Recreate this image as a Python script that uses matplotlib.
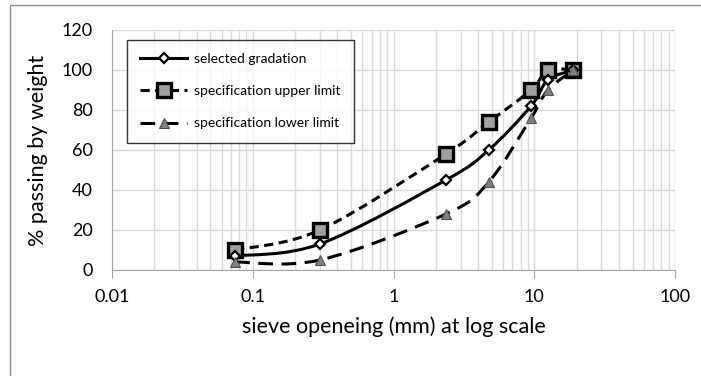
import matplotlib
matplotlib.use('Agg')
import matplotlib.pyplot as plt
from matplotlib.path import Path
from matplotlib.patches import PathPatch, Rectangle
from matplotlib.lines import Line2D
import numpy as np

plt.rcParams['font.family'] = ['Lato', 'DejaVu Sans']

# sieve sizes (mm) and % passing
sieve = [0.075, 0.3, 2.36, 4.75, 9.5, 12.5, 19]
selected = [7, 13, 45, 60, 82, 95, 100]
upper = [10, 20, 58, 74, 90, 100, 100]
lower = [4, 5, 28, 44, 76, 90, 100]

GRID = '#d9d9d9'
AXIS = '#a6a6a6'
GRAY_FILL = '#a0a0a0'
TRI_FILL = '#808080'


def smooth_path(xs, ys):
    # Excel-like smoothed line: cubic Bezier segments in log-x space
    lx = np.log10(xs)
    ys = np.asarray(ys, dtype=float)
    n = len(lx)
    verts = [(xs[0], ys[0])]
    codes = [Path.MOVETO]
    for i in range(n - 1):
        p0 = np.array([lx[max(i - 1, 0)], ys[max(i - 1, 0)]])
        p1 = np.array([lx[i], ys[i]])
        p2 = np.array([lx[i + 1], ys[i + 1]])
        p3 = np.array([lx[min(i + 2, n - 1)], ys[min(i + 2, n - 1)]])
        c1 = p1 + (p2 - p0) / 6.0
        c2 = p2 - (p3 - p1) / 6.0
        for c in (c1, c2, p2):
            verts.append((10 ** c[0], c[1]))
            codes.append(Path.CURVE4)
    return Path(verts, codes)


fig = plt.figure(figsize=(7.01, 3.76), dpi=100)
fig.patch.set_facecolor('white')
fig.patches.append(Rectangle((10 / 701, -0.05), 1.2, 1 - 5 / 376 + 0.05,
                             transform=fig.transFigure, fill=False,
                             edgecolor='#8c8c8c', linewidth=1.0))

ax = fig.add_axes([112 / 701, 1 - 270 / 376, (675 - 112) / 701, 240 / 376])
ax.set_xscale('log')
ax.set_xlim(0.01, 100)
ax.set_ylim(0, 120)
ax.set_yticks(range(0, 121, 20))

ax.grid(True, which='major', axis='both', color=GRID, linewidth=1.0)
ax.grid(True, which='minor', axis='x', color=GRID, linewidth=1.0)
ax.set_axisbelow(True)
for s in ['top', 'right']:
    ax.spines[s].set_visible(False)
ax.spines['left'].set_color(AXIS)
ax.spines['bottom'].set_color(AXIS)
ax.tick_params(axis='x', which='major', length=6, color=AXIS, labelsize=13, pad=8)
ax.tick_params(axis='x', which='minor', length=0)
ax.tick_params(axis='y', length=0, labelsize=13, pad=14)
ax.xaxis.set_major_formatter(matplotlib.ticker.FuncFormatter(lambda v, p: f'{v:g}'))

# smoothed lines
ax.add_patch(PathPatch(smooth_path(sieve, upper), fill=False, edgecolor='black',
                       linewidth=2.2, linestyle=(0, (3.0, 1.8)), zorder=3))
ax.add_patch(PathPatch(smooth_path(sieve, lower), fill=False, edgecolor='black',
                       linewidth=2.2, linestyle=(0, (4.8, 2.8)), zorder=3))
ax.add_patch(PathPatch(smooth_path(sieve, selected), fill=False, edgecolor='black',
                       linewidth=2.2, zorder=4))

# markers
ax.plot(sieve, upper, linestyle='none', marker='s', markersize=9.5,
        markerfacecolor=GRAY_FILL, markeredgecolor='black', markeredgewidth=2.4, zorder=5)
ax.plot(sieve, selected, linestyle='none', marker='D', markersize=5.5,
        markerfacecolor='white', markeredgecolor='black', markeredgewidth=1.6, zorder=6)
ax.plot(sieve, lower, linestyle='none', marker='^', markersize=7,
        markerfacecolor=TRI_FILL, markeredgecolor='#505050', markeredgewidth=0.8, zorder=7)

handles = [
    Line2D([], [], color='black', linewidth=2.2, marker='D', markersize=5.5,
           markerfacecolor='white', markeredgecolor='black', markeredgewidth=1.6),
    Line2D([], [], color='black', linewidth=2.2, linestyle=(0, (3.0, 1.8)), marker='s',
           markersize=9.5, markerfacecolor=GRAY_FILL, markeredgecolor='black',
           markeredgewidth=2.4),
    Line2D([], [], color='black', linewidth=2.2, linestyle=(0, (4.8, 2.8)), marker='^',
           markersize=7, markerfacecolor=TRI_FILL, markeredgecolor='#505050',
           markeredgewidth=0.8),
]
labels = ['selected gradation', 'specification upper limit', 'specification lower limit']
leg = ax.legend(handles, labels, loc='upper left', bbox_to_anchor=(15 / 563, 1 - 10 / 240),
                fontsize=10, frameon=True, fancybox=False, edgecolor='black',
                handlelength=3.4, handletextpad=0.5, borderpad=0.95, labelspacing=1.45,
                borderaxespad=0)
leg.get_frame().set_linewidth(1.0)

ax.set_xlabel('sieve openeing (mm) at log scale', fontsize=15.5, labelpad=8)
ax.set_ylabel('% passing by weight', fontsize=15.5, labelpad=10)

fig.savefig('out.png', dpi=100)
